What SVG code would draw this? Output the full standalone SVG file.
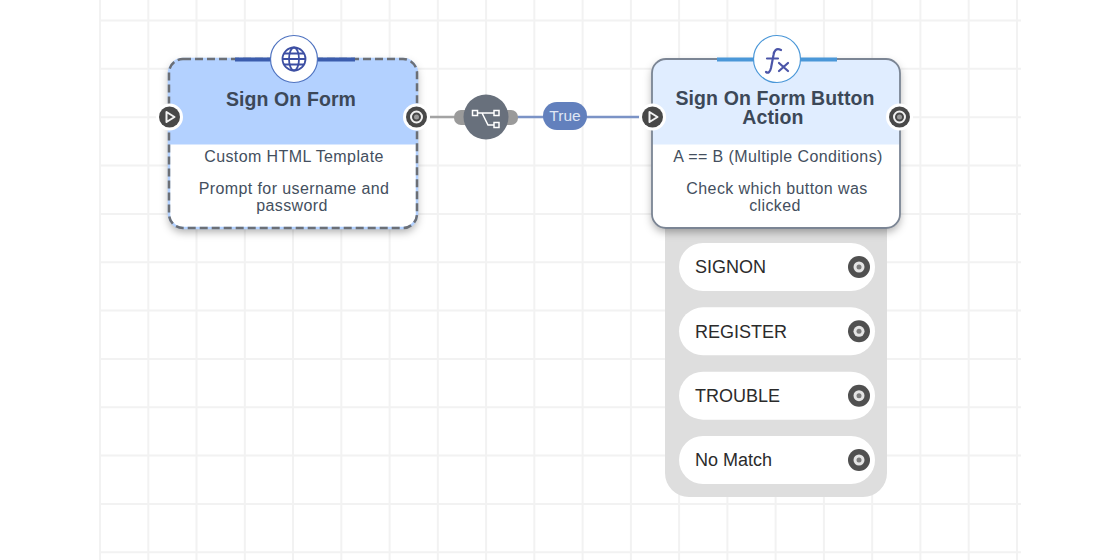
<svg xmlns="http://www.w3.org/2000/svg" width="1120" height="560" viewBox="0 0 1120 560">
<defs>
<style>
.g{stroke:#f2f2f2;stroke-width:2;fill:none}
text{font-family:"Liberation Sans",Arial,sans-serif}
.t{font-size:19.5px;font-weight:bold;fill:#3c4858;text-anchor:middle;letter-spacing:.1px}
.d{font-size:16px;fill:#444f5e;text-anchor:middle;letter-spacing:.4px}
.o{font-size:18px;fill:#2b2b2b}
</style>
<filter id="sh" x="-20%" y="-20%" width="140%" height="150%"><feDropShadow dx="0" dy="4" stdDeviation="4" flood-color="#000" flood-opacity=".32"/></filter>
<g id="portOut"><circle r="13.500" fill="#fff"/><circle r="10.500" fill="#484848"/><circle r="5.500" fill="none" stroke="#f2f2f2" stroke-width="2"/><circle r="2.500" fill="#9a9a9a"/></g>
<g id="portIn"><circle r="13.500" fill="#fff"/><circle r="10.500" fill="#484848"/><path d="M-3 -5L5 0L-3 5Z" fill="none" stroke="#f2f2f2" stroke-width="2" stroke-linejoin="round"/></g>
<g id="optPort"><circle r="11" fill="#505050"/><circle r="5.500" fill="#e4e4e4"/><circle r="2.500" fill="#7a7a7a"/></g>
</defs>
<rect width="1120" height="560" fill="#fff"/>
<g id="grid">
<path class="g" d="M100 0V560M148.300 0V560M196.500 0V560M244.800 0V560M293 0V560M341.300 0V560M389.600 0V560M437.800 0V560M486.100 0V560M534.300 0V560M582.600 0V560M630.900 0V560M679.100 0V560M727.400 0V560M775.600 0V560M823.900 0V560M872.200 0V560M920.400 0V560M968.700 0V560M1017 0V560"/>
<path class="g" d="M100 20.500H1021M100 68.800H1021M100 117.200H1021M100 165.500H1021M100 213.900H1021M100 262.200H1021M100 310.600H1021M100 358.900H1021M100 407.300H1021M100 455.600H1021M100 504H1021M100 552.300H1021"/>
</g>
<g id="connectors">
<path d="M430 117H456" stroke="#a3a3a3" stroke-width="2.500" fill="none"/>
<path d="M514 117H640" stroke="#7b93c6" stroke-width="2.500" fill="none"/>
</g>
<g id="node-sign-on-form">
<rect x="169" y="59" width="248" height="169" rx="14" fill="#fff" filter="url(#sh)"/>
<path d="M183 59H403a14 14 0 0 1 14 14V144.500H169V73a14 14 0 0 1 14-14Z" fill="#b3d1ff"/>
<rect x="169" y="59" width="248" height="169" rx="14" fill="none" stroke="#b3d1ff" stroke-width="2.500"/>
<rect x="169" y="59" width="248" height="169" rx="14" fill="none" stroke="#6b6f76" stroke-width="2.500" stroke-dasharray="8 4"/>
<path d="M235 59.500H355" stroke="#3b5cad" stroke-width="4"/>
<circle cx="294" cy="59" r="23.500" fill="#fff" stroke="#4f73c0" stroke-width="1.200"/>
<g fill="none" stroke="#3d4fa3" stroke-width="1.800"><circle cx="294" cy="59" r="11.500"/><ellipse cx="294" cy="59" rx="5" ry="11.500"/><path d="M282.500 59H305.500M284 53.500H304M284 64.500H304"/></g>
<text class="t" x="291" y="106">Sign On Form</text>
<text class="d" x="294" y="162">Custom HTML Template</text>
<text class="d" x="294" y="194">Prompt for username and<tspan x="292" dy="17">password</tspan></text>
<use href="#portIn" x="169.500" y="117"/>
<use href="#portOut" x="416.500" y="117"/>
</g>
<g id="edge-filter">
<rect x="454" y="110" width="64" height="15" rx="7" fill="#9a9a9a"/>
<circle cx="486" cy="117" r="22.500" fill="#68707c"/>
<g fill="none" stroke="#fff" stroke-width="1.500"><rect x="472.500" y="110.500" width="5" height="5"/><rect x="494" y="110.500" width="5" height="5"/><rect x="494" y="122.500" width="5" height="5"/><path d="M477.500 113H482L488 125H494M482 113H494"/></g>
</g>
<g id="label-true">
<rect x="543" y="102" width="44" height="28" rx="14" fill="#6280bd"/>
<text x="565" y="121" font-size="15.500" fill="#dfe6f4" text-anchor="middle">True</text>
</g>
<g id="node-options">
<path d="M665 225H887V473a24 24 0 0 1-24 24H689a24 24 0 0 1-24-24Z" fill="#dedede"/>
<rect x="679" y="243" width="196" height="48" rx="24" fill="#fff"/>
<text class="o" x="695" y="273">SIGNON</text>
<use href="#optPort" x="859" y="267"/>
<rect x="679" y="307.300" width="196" height="48" rx="24" fill="#fff"/>
<text class="o" x="695" y="337.500">REGISTER</text>
<use href="#optPort" x="859" y="331.300"/>
<rect x="679" y="371.700" width="196" height="48" rx="24" fill="#fff"/>
<text class="o" x="695" y="402">TROUBLE</text>
<use href="#optPort" x="859" y="395.700"/>
<rect x="679" y="436" width="196" height="48" rx="24" fill="#fff"/>
<text class="o" x="695" y="466">No Match</text>
<use href="#optPort" x="859" y="460"/>
</g>
<g id="node-button-action">
<rect x="652" y="59" width="248" height="169" rx="14" fill="#fff" filter="url(#sh)"/>
<path d="M666 59H886a14 14 0 0 1 14 14V144.500H652V73a14 14 0 0 1 14-14Z" fill="#e0edff"/>
<rect x="652" y="59" width="248" height="169" rx="14" fill="none" stroke="#7b8594" stroke-width="1.800"/>
<path d="M717 59.500H837" stroke="#4a97d8" stroke-width="4"/>
<circle cx="777" cy="59" r="23.500" fill="#fff" stroke="#4a97d8" stroke-width="1.200"/>
<path d="M781 50C776 47.500 774 51 773.500 55L771 68C770 72.500 768 73.500 766 72M767 58.500H778M779 63L788 71M788 63L779 71" fill="none" stroke="#4b55a8" stroke-width="2.200" stroke-linecap="round"/>
<text class="t" x="775" y="105">Sign On Form Button<tspan x="773" dy="19">Action</tspan></text>
<text class="d" x="778" y="162">A == B (Multiple Conditions)</text>
<text class="d" x="777" y="194">Check which button was<tspan x="775" dy="17">clicked</tspan></text>
<use href="#portIn" x="652.500" y="117"/>
<use href="#portOut" x="899.500" y="117"/>
</g>
</svg>
